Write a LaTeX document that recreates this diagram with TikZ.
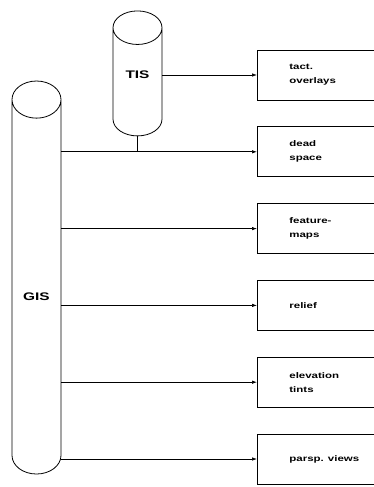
\documentclass[tikz,border=0pt]{standalone}
\usepackage{fontspec}
\newfontfamily\diagfont{Liberation Sans}[FakeStretch=1.4]
\usetikzlibrary{arrows.meta,positioning,shapes.geometric}

\tikzset{
  storefont/.style={font=\diagfont\bfseries\fontsize{11}{13}\selectfont}
}

\begin{document}
\begin{tikzpicture}[x=1pt,y=1pt,
    store/.style={draw,shape=cylinder,shape border rotate=90,aspect=1.4,
      minimum width=49pt,inner sep=0pt,line width=0.8pt,storefont},
    output/.style={draw,line width=0.8pt,minimum height=50pt,text width=80pt,
      align=left,inner xsep=32pt,
      font=\diagfont\bfseries\fontsize{8.2}{14}\selectfont},
    feed/.style={-{Latex[length=5pt,width=3.5pt]},line width=0.7pt}]
  \useasboundingbox (0,0) rectangle (373,-487);

  % data stores
  \node (tis) [store,minimum height=125pt,
    label={[storefont,yshift=7pt]center:TIS}] at (137.5,-82) {\phantom{TIS}};
  \node (gis) [store,minimum height=393pt,
    label={[storefont,yshift=-10pt]center:GIS}] at (36.5,-287) {\phantom{GIS}};

  % products
  \node (tact)   [output,anchor=west] at (257,-75) {tact.\\overlays};
  \node (dead)   [output,below=26pt of tact]   {dead\\space};
  \node (feat)   [output,below=26pt of dead]   {feature-\\maps};
  \node (relief) [output,below=26pt of feat]   {relief};
  \node (elev)   [output,below=26pt of relief] {elevation\\tints};
  \node (persp)  [output,below=26pt of elev]   {parsp. views};

  \draw [feed] (tis.east |- tact.west) -- (tact.west);
  \draw [line width=0.8pt] (tis.south) -- (tis.south |- dead.west);
  \foreach \outp in {dead,feat,relief,elev,persp}
    \draw [feed] (gis.east |- \outp.west) -- (\outp.west);
\end{tikzpicture}
\end{document}
